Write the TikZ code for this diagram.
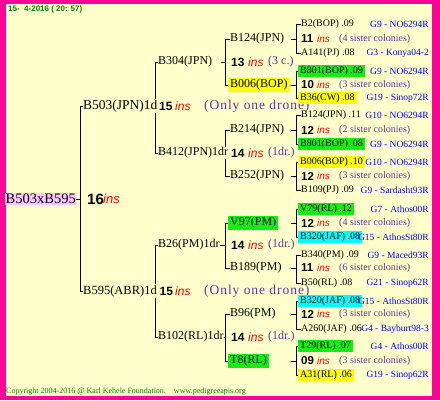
\documentclass[tikz,border=0pt]{standalone}
\usepackage{fontspec}
\setmainfont{Liberation Serif}
\newfontfamily\sansf{Liberation Sans}
\newfontfamily\wideserif[LetterSpace=7]{Liberation Serif}
\definecolor{bgc}{HTML}{FFFFCC}
\definecolor{framec}{HTML}{FF0099}
\definecolor{purc}{HTML}{663399}
\definecolor{gboxc}{HTML}{11EE11}
\definecolor{yboxc}{HTML}{FFFF00}
\definecolor{cboxc}{HTML}{00FFFF}
\definecolor{pinkc}{HTML}{FFC8FF}
\definecolor{dgreenc}{HTML}{008800}
\definecolor{gbluec}{HTML}{0000FF}
\pgfdeclarelayer{bgl}
\pgfsetlayers{bgl,main}
\tikzset{
  tl/.style={anchor=west, inner sep=0pt, font=\fontsize{12}{14}\selectfont},
  sl/.style={anchor=west, inner sep=0pt, font=\fontsize{10}{12}\selectfont},
  hl/.style={anchor=west, fill=#1, inner xsep=2pt, inner ysep=1.5pt},
  gl/.style={anchor=east, inner sep=0pt, text=gbluec, font=\fontsize{9.5}{11}\selectfont},
  nb/.style={anchor=west, inner xsep=0pt, inner ysep=1pt, fill=bgc, font=\sansf\bfseries\fontsize{12}{14}\selectfont},
  ni/.style={anchor=west, inner sep=0pt, text=red, font=\sansf\itshape\fontsize{12}{14}\selectfont},
  pp/.style={anchor=west, inner sep=0pt, text=purc, font=\fontsize{12}{14}\selectfont},
  nbs/.style={anchor=west, inner sep=0pt, font=\sansf\bfseries\fontsize{11.5}{13}\selectfont},
  nis/.style={anchor=west, inner sep=0pt, text=red, font=\sansf\itshape\fontsize{10}{12}\selectfont},
  pps/.style={anchor=west, inner sep=0pt, text=purc, font=\fontsize{10}{12}\selectfont},
  ln/.style={draw=black, line width=0.9pt},
}
\begin{document}
\begin{tikzpicture}[x=1pt,y=-1pt]
\useasboundingbox (0,0) rectangle (440,400);
% ---------- root ----------
\node[anchor=west, fill=pinkc, inner xsep=0.5pt, inner ysep=1pt, font=\fontsize{14.5}{16}\selectfont] (root) at (5,199) {B503xB595};
\node[nb, font=\sansf\bfseries\fontsize{15}{17}\selectfont] (r16) at (87,199) {16};
\node[ni, font=\sansf\itshape\fontsize{13}{15}\selectfont] at (103,199) {ins};
% ---------- level 1 ----------
\node[tl, fill=bgc, inner ysep=1pt, font=\fontsize{13.5}{15}\selectfont] (a1) at (83,106) {B503(JPN)1d};
\node[nb] (a1n) at (159,106) {15};
\node[ni] at (175,106) {ins};
\node[pp, font=\wideserif\fontsize{13.5}{15}\selectfont] at (204,106) {(Only one drone)};
\node[tl, fill=bgc, inner ysep=1pt, font=\fontsize{12.5}{15}\selectfont] (a2) at (83,291) {B595(ABR)1d};
\node[nb] (a2n) at (159.5,291) {15};
\node[ni] at (175,291) {ins};
\node[pp, font=\wideserif\fontsize{13.5}{15}\selectfont] at (204,291) {(Only one drone)};
% ---------- level 2 ----------
\node[tl] (b1) at (158,62) {B304(JPN)};
\node[nb] at (231,62) {13};
\node[ni] at (248,62) {ins};
\node[pp] at (268,62) {(3 c.)};
\node[tl, fill=bgc, inner ysep=1pt] (b2) at (158,153) {B412(JPN)1dr};
\node[nb] at (231,153) {14};
\node[ni] at (248,153) {ins};
\node[pp] at (268,153) {(1dr.)};
\node[tl] (b3) at (158,245) {B26(PM)1dr};
\node[nb] at (231,245) {14};
\node[ni] at (248,245) {ins};
\node[pp] at (268,245) {(1dr.)};
\node[tl] (b4) at (158,337) {B102(RL)1dr};
\node[nb] at (231,337) {14};
\node[ni] at (248,337) {ins};
\node[pp] at (268,337) {(1dr.)};
% ---------- level 3 ----------
\node[tl] (c1) at (230,39) {B124(JPN)};
\node[hl=yboxc, font=\fontsize{12}{14}\selectfont] (c2) at (228,85) {B006(BOP)};
\node[tl] (c3) at (230,130) {B214(JPN)};
\node[tl] (c4) at (230,176) {B252(JPN)};
\node[hl=gboxc, font=\fontsize{12}{14}\selectfont] (c5) at (228,223) {V97(PM)};
\node[tl] (c6) at (230,268) {B189(PM)};
\node[tl] (c7) at (230,314) {B96(PM)};
\node[hl=gboxc, font=\fontsize{12}{14}\selectfont] (c8) at (228,361) {T8(RL)};
% ---------- level 4 ----------
% group 1
\node[sl] (d1a) at (301,24) {B2(BOP) .09};
\node[gl] at (429,24) {G9 - NO6294R};
\node[nbs] at (301,39) {11}; \node[nis] at (317,39) {ins}; \node[pps] at (339,39) {(4 sister colonies)};
\node[sl] (d1b) at (301,53) {A141(PJ) .08};
\node[gl] at (429,53) {G3 - Konya04-2};
% group 2
\node[hl=gboxc, font=\fontsize{10}{12}\selectfont] (d2a) at (298,71) {B801(BOP) .09};
\node[gl] at (429,71) {G9 - NO6294R};
\node[nbs] at (301,85) {10}; \node[nis] at (317,85) {ins}; \node[pps] at (339,85) {(3 sister colonies)};
\node[hl=yboxc, font=\fontsize{10}{12}\selectfont] (d2b) at (298,98) {B36(CW) .08};
\node[gl] at (429,98) {G19 - Sinop72R};
% group 3
\node[sl] (d3a) at (301,115) {B124(JPN) .11};
\node[gl] at (429,115) {G10 - NO6294R};
\node[nbs] at (301,130) {12}; \node[nis] at (317,130) {ins}; \node[pps] at (339,130) {(2 sister colonies)};
\node[hl=gboxc, font=\fontsize{10}{12}\selectfont] (d3b) at (298,144) {B801(BOP) .08};
\node[gl] at (429,144) {G9 - NO6294R};
% group 4
\node[hl=yboxc, font=\fontsize{10}{12}\selectfont] (d4a) at (298,162) {B006(BOP) .10};
\node[gl] at (429,162) {G10 - NO6294R};
\node[nbs] at (301,176) {12}; \node[nis] at (317,176) {ins}; \node[pps] at (339,176) {(3 sister colonies)};
\node[sl] (d4b) at (301,190) {B109(PJ) .09};
\node[gl] at (429,190) {G9 - Sardasht93R};
% group 5
\node[hl=gboxc, font=\fontsize{10}{12}\selectfont] (d5a) at (298,209) {V79(RL) .12};
\node[gl] at (429,209) {G7 - Athos00R};
\node[nbs] at (301,223) {12}; \node[nis] at (317,223) {ins}; \node[pps] at (339,223) {(4 sister colonies)};
\node[hl=cboxc, font=\fontsize{10}{12}\selectfont] (d5b) at (298,237) {B320(JAF) .08};
\node[gl] at (429,237) {G15 - AthosSt80R};
% group 6
\node[sl] (d6a) at (301,255) {B340(PM) .09};
\node[gl] at (429,255) {G9 - Maced93R};
\node[nbs] at (301,268) {11}; \node[nis] at (317,268) {ins}; \node[pps] at (339,268) {(6 sister colonies)};
\node[sl] (d6b) at (301,283) {B50(RL) .08};
\node[gl] at (429,283) {G21 - Sinop62R};
% group 7
\node[hl=cboxc, font=\fontsize{10}{12}\selectfont] (d7a) at (298,301) {B320(JAF) .08};
\node[gl] at (429,301) {G15 - AthosSt80R};
\node[nbs] at (301,314) {12}; \node[nis] at (317,314) {ins}; \node[pps] at (339,314) {(3 sister colonies)};
\node[sl] (d7b) at (301,329) {A260(JAF) .06};
\node[gl] at (429,329) {G4 - Bayburt98-3};
% group 8
\node[hl=gboxc, font=\fontsize{10}{12}\selectfont] (d8a) at (298,346) {T29(RL) .07};
\node[gl] at (429,346) {G4 - Athos00R};
\node[nbs] at (301,361) {09}; \node[nis] at (317,361) {ins}; \node[pps] at (339,361) {(3 sister colonies)};
\node[hl=yboxc, font=\fontsize{10}{12}\selectfont] (d8b) at (298,375) {A31(RL) .06};
\node[gl] at (429,375) {G19 - Sinop62R};
% ---------- date & copyright ----------
\node[anchor=west, inner sep=0pt, text=dgreenc, font=\sansf\bfseries\fontsize{8}{9}\selectfont] (date) at (8,9) {15-~~4-2016 ( 20: 57)};
\node[anchor=west, inner sep=0pt, text=dgreenc, font=\fontsize{8}{9}\selectfont] (copy) at (6,392) {Copyright 2004-2016 @ Karl Kehele Foundation.\quad www.pedigreeapis.org};
% ---------- background, frame and connectors ----------
\begin{pgfonlayer}{bgl}
\fill[framec] (0,0) rectangle (440,400);
\fill[bgc] (6,4) rectangle (432,396);
% root
\draw[ln] (root.east) -- (80,199) coordinate (j0);
\draw[ln] (j0) |- (a1.west);
\draw[ln] (j0) |- (a2.west);
% level 1 -> 2
\coordinate (j1) at (155,106);
\draw[ln] (j1) |- (b1.west);
\draw[ln] (j1) |- (b2.west);
\coordinate (j2) at (155,291);
\draw[ln] (j2) |- (b3.west);
\draw[ln] (j2) |- (b4.west);
% level 2 -> 3
\coordinate (t1) at (221,62);
\draw[ln] (t1) -- (225,62) coordinate (k1);
\draw[ln] (k1) |- (c1.west);
\draw[ln] (k1) |- (c2.west);
\coordinate (k2) at (225,153);
\draw[ln] (k2) |- (c3.west);
\draw[ln] (k2) |- (c4.west);
\draw[ln] (b3.east) -- (225,245) coordinate (k3);
\draw[ln] (k3) |- (c5.west);
\draw[ln] (k3) |- (c6.west);
\draw[ln] (b4.east) -- (225,337) coordinate (k4);
\draw[ln] (k4) |- (c7.west);
\draw[ln] (k4) |- (c8.west);
% level 3 -> 4
\foreach \g/\y in {1/39,2/85,3/130,4/176,5/223,6/268,7/314,8/361}{
  \coordinate (u\g) at (291,\y);
  \draw[ln] (u\g) -- (296,\y) coordinate (v\g);
  \draw[ln] (v\g) |- (d\g a.west);
  \draw[ln] (v\g) |- (d\g b.west);
}
\end{pgfonlayer}
\end{tikzpicture}
\end{document}
